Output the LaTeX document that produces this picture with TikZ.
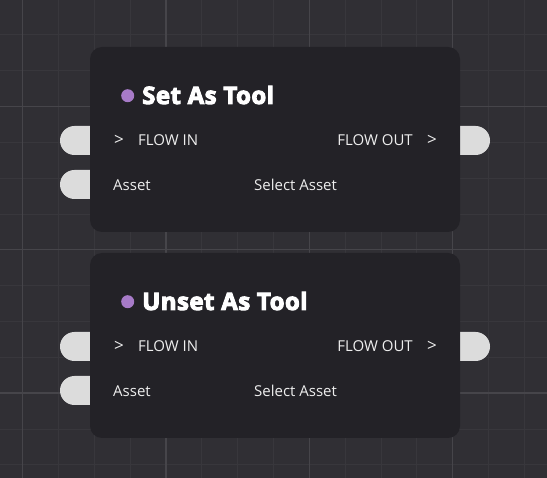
\documentclass[tikz,border=0pt]{standalone}
\usepackage{fontspec}
\setmainfont{Open Sans}
\newfontfamily\titlefont[BoldFeatures={FakeBold=4, LetterSpace=2}]{Open Sans}
\usetikzlibrary{calc}
\definecolor{canvasbg}{RGB}{48,47,52}
\definecolor{gridminor}{RGB}{56,55,60}
\definecolor{gridmajor}{RGB}{70,69,74}
\definecolor{boxbg}{RGB}{35,34,39}
\definecolor{pillgray}{RGB}{220,220,220}
\definecolor{rowwhite}{RGB}{238,238,238}
\definecolor{dotpurple}{RGB}{167,123,200}
\tikzset{
	minorline/.style={line width=0.8pt, color=gridminor},
	majorline/.style={line width=1.3pt, color=gridmajor},
	toolbox/.style={fill=boxbg, rounded corners=12pt, minimum width=370pt, minimum height=185pt, inner sep=0pt},
	portpill/.style={fill=pillgray, rounded corners=14.5pt},
	rowtext/.style={text=rowwhite, font=\fontsize{15}{17}\selectfont, inner sep=0pt},
	arrowmark/.style={text=rowwhite, font=\fontsize{17}{19}\selectfont, inner sep=0pt},
	titletext/.style={text=white, font=\titlefont\fontsize{24}{27}\selectfont\bfseries, inner sep=0pt},
	statusdot/.style={circle, fill=dotpurple, minimum size=13pt, inner sep=0pt}
}

\begin{document}
\begin{tikzpicture}[x=1pt, y=-1pt]
			%%%%% START %%%%%
			
			\fill[canvasbg] (0, 0) rectangle (547, 478);
			\useasboundingbox (0, 0) rectangle (547, 478);
			
			% grid
			\foreach \i in {0,...,15} {
				\draw[minorline] ({22.7 + 35.83*\i}, 0) -- ({22.7 + 35.83*\i}, 478);
			}
			\foreach \j in {-3,...,10} {
				\draw[minorline] (0, {106.5 + 35.83*\j}) -- (547, {106.5 + 35.83*\j});
			}
			\foreach \i in {0,...,3} {
				\draw[majorline] ({22.7 + 143.3*\i}, 0) -- ({22.7 + 143.3*\i}, 478);
			}
			\foreach \j in {0,...,2} {
				\draw[majorline] (0, {106.5 + 143.3*\j}) -- (547, {106.5 + 143.3*\j});
			}
			
			% ports, top block
			\fill[portpill] (60, 126) rectangle (110, 155);
			\fill[portpill] (60, 170) rectangle (110, 199);
			\fill[portpill] (440, 126) rectangle (490, 155);
			
			% ports, bottom block
			\fill[portpill] (60, 332) rectangle (110, 361);
			\fill[portpill] (60, 376) rectangle (110, 405);
			\fill[portpill] (440, 332) rectangle (490, 361);
			
			% set as tool
			\node[toolbox] (setbox) at (275, 139.5) {};
			\node[statusdot] (setdot) at (127.7, 95.7) {};
			\node[titletext, anchor=base west] (settitle) at (142, 104) {Set As Tool};
			\node[arrowmark, anchor=west] (setinmark) at (114, 140.5) {>};
			\node[rowtext, anchor=west] (setflowin) at (138, 140.5) {FLOW IN};
			\node[arrowmark, anchor=east] (setoutmark) at (437, 140.5) {>};
			\node[rowtext, anchor=east] (setflowout) at (413, 140.5) {FLOW OUT};
			\node[rowtext, anchor=west] (setasset) at (113, 185) {Asset};
			\node[rowtext, anchor=west] (setselect) at (254, 185) {Select Asset};
			
			% unset as tool
			\node[toolbox] (unsetbox) at (275, 345.5) {};
			\node[statusdot] (unsetdot) at (127.7, 301.7) {};
			\node[titletext, anchor=base west] (unsettitle) at (142, 310) {Unset As Tool};
			\node[arrowmark, anchor=west] (unsetinmark) at (114, 346.5) {>};
			\node[rowtext, anchor=west] (unsetflowin) at (138, 346.5) {FLOW IN};
			\node[arrowmark, anchor=east] (unsetoutmark) at (437, 346.5) {>};
			\node[rowtext, anchor=east] (unsetflowout) at (413, 346.5) {FLOW OUT};
			\node[rowtext, anchor=west] (unsetasset) at (113, 391) {Asset};
			\node[rowtext, anchor=west] (unsetselect) at (254, 391) {Select Asset};
			
			%%%%% END %%%%%
\end{tikzpicture}
\end{document}
